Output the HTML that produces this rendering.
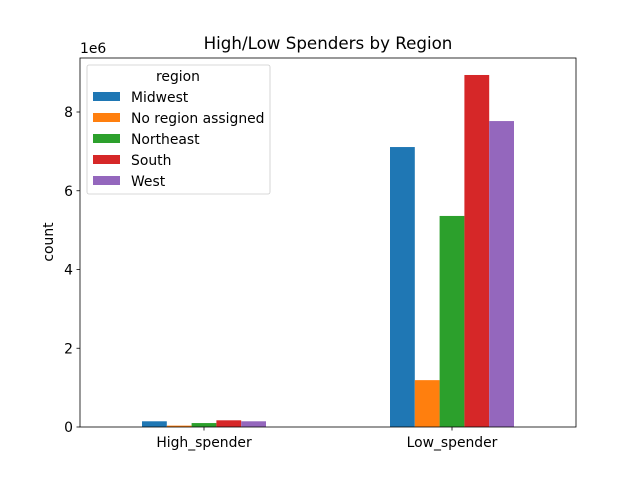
<!DOCTYPE html>
<html><head><meta charset="utf-8"><style>body{margin:0;background:#fff;position:relative}svg{font-family:"DejaVu Sans","Liberation Sans",sans-serif}</style></head>
<body>
<svg id="c" width="640" height="480"></svg>
<script>
const categories = ["High_spender", "Low_spender"];
const seriesNames = ["Midwest", "No region assigned", "Northeast", "South", "West"];
const midwest = [0.145, 7.11];
const noRegion = [0.035, 1.19];
const northeast = [0.1, 5.36];
const south = [0.17, 8.94];
const west = [0.145, 7.77];
const yTicks = [0, 2, 4, 6, 8];
const series = [midwest, noRegion, northeast, south, west];
const colors = ["#1f77b4", "#ff7f0e", "#2ca02c", "#d62728", "#9467bd"];
const NS = "http://www.w3.org/2000/svg";
const svg = document.getElementById("c");
const L = 80, R = 576, T = 58, B = 427;
const x = v => L + (v + 0.5) / 2 * (R - L);
const y = v => B - v * 39.375;
function mk(tag, attrs, parent) { const e = document.createElementNS(NS, tag); for (const k in attrs) e.setAttribute(k, attrs[k]); (parent || svg).appendChild(e); return e; }
series.forEach((s, si) => {
  s.forEach((v, ci) => {
    const cx = x(ci) + (si - 2) * 0.1 * 248;
    const r = mk("rect", { x: cx - 12.4, y: y(v), width: 24.8, height: B - y(v), fill: colors[si] });
    
    
  });
});
const frame = mk("rect", { x: L, y: T, width: R - L, height: B - T, fill: "none", stroke: "#000", "stroke-width": 0.8 });


yTicks.forEach(t => {
  mk("line", { x1: L - 3.5, x2: L, y1: y(t), y2: y(t), stroke: "#000", "stroke-width": 0.8 });
  const tx = mk("text", { x: L - 7, y: y(t) + 5, "text-anchor": "end", "font-size": 13.9 });
  tx.textContent = t;
  
  
});
categories.forEach((c, i) => {
  mk("line", { x1: x(i), x2: x(i), y1: B, y2: B + 3.5, stroke: "#000", "stroke-width": 0.8 });
  const tx = mk("text", { x: x(i), y: B + 20, "text-anchor": "middle", "font-size": 13.9 });
  tx.textContent = c;
  
  
});
</script>
<svg width="640" height="480" style="position:absolute;left:0;top:0" font-family="DejaVu Sans, Liberation Sans, sans-serif">
<text x="80" y="53" font-size="13.9">1e6</text>
<text x="328" y="49" font-size="16.7" text-anchor="middle">High/Low Spenders by Region</text>
<text transform="translate(53,242) rotate(-90)" font-size="13.9" text-anchor="middle">count</text>
<g>
<rect x="87" y="65" width="183" height="129" rx="2" fill="#fff" fill-opacity="0.8" stroke="#ccc" stroke-width="0.8"/>
<text x="178" y="81" font-size="13.9" text-anchor="middle">region</text>
<rect x="93" y="92" width="27" height="9" fill="#1f77b4"/><text x="131" y="102" font-size="13.9">Midwest</text>
<rect x="93" y="113" width="27" height="9" fill="#ff7f0e"/><text x="131" y="123" font-size="13.9">No region assigned</text>
<rect x="93" y="134" width="27" height="9" fill="#2ca02c"/><text x="131" y="144" font-size="13.9">Northeast</text>
<rect x="93" y="155" width="27" height="9" fill="#d62728"/><text x="131" y="165" font-size="13.9">South</text>
<rect x="93" y="176" width="27" height="9" fill="#9467bd"/><text x="131" y="186" font-size="13.9">West</text>
</g>
</svg>
</body></html>
